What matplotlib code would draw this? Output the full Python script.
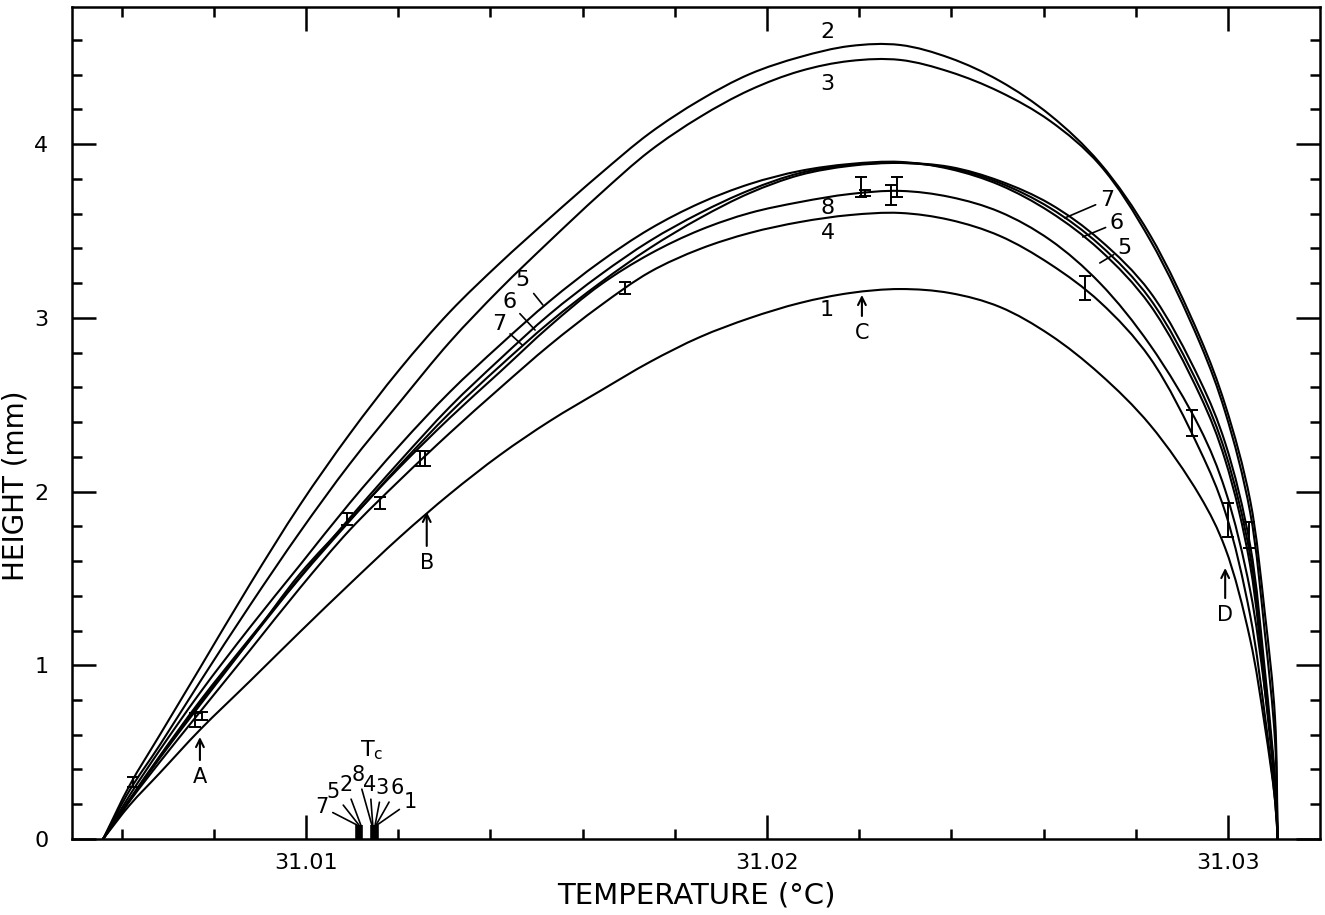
import matplotlib
matplotlib.use("Agg")
import numpy as np
from matplotlib import pyplot as plt
from matplotlib.path import Path
from matplotlib.patches import PathPatch
from matplotlib.ticker import MultipleLocator, FixedLocator

# temperatures (deg C) at which the curve heights were read
temps = [31.00560, 31.00618, 31.00683, 31.00770, 31.00879, 31.00987, 31.01095,
         31.01204, 31.01312, 31.01421, 31.01529, 31.01638, 31.01746, 31.01855,
         31.01963, 31.02072, 31.02180, 31.02289, 31.02397, 31.02505, 31.02614,
         31.02722, 31.02831, 31.02939, 31.02994, 31.03048, 31.03080, 31.03102,
         31.03108]

# meniscus height (mm) for each sample
h1 = [0, 0.196, 0.380, 0.628, 0.910, 1.192, 1.468, 1.739, 1.986, 2.211, 2.406,
      2.579, 2.746, 2.890, 2.999, 3.086, 3.143, 3.166, 3.143, 3.063, 2.902,
      2.677, 2.384, 1.975, 1.675, 1.151, 0.650, 0.225, 0]
h2 = [0, 0.311, 0.599, 0.984, 1.468, 1.923, 2.332, 2.706, 3.034, 3.316, 3.575,
      3.828, 4.064, 4.254, 4.404, 4.502, 4.565, 4.571, 4.496, 4.364, 4.168,
      3.892, 3.477, 2.890, 2.499, 1.952, 1.301, 0.702, 0]
h3 = [0, 0.282, 0.541, 0.904, 1.347, 1.767, 2.159, 2.516, 2.861, 3.166, 3.443,
      3.713, 3.961, 4.157, 4.312, 4.421, 4.479, 4.485, 4.416, 4.301, 4.134,
      3.881, 3.449, 2.856, 2.458, 1.883, 1.186, 0.570, 0]
h4 = [0, 0.219, 0.443, 0.731, 1.088, 1.445, 1.779, 2.067, 2.337, 2.596, 2.844,
      3.069, 3.264, 3.397, 3.489, 3.552, 3.592, 3.604, 3.564, 3.472, 3.310,
      3.092, 2.769, 2.240, 1.883, 1.290, 0.714, 0.225, 0]
h5 = [0, 0.253, 0.512, 0.841, 1.220, 1.577, 1.934, 2.268, 2.573, 2.844, 3.097,
      3.322, 3.512, 3.661, 3.771, 3.846, 3.886, 3.898, 3.857, 3.765, 3.610,
      3.391, 3.074, 2.556, 2.182, 1.577, 0.858, 0.282, 0]
h6 = [0, 0.230, 0.478, 0.794, 1.157, 1.508, 1.848, 2.176, 2.487, 2.763, 3.022,
      3.247, 3.443, 3.604, 3.736, 3.834, 3.880, 3.892, 3.863, 3.777, 3.633,
      3.420, 3.109, 2.596, 2.228, 1.635, 0.915, 0.311, 0]
h7 = [0, 0.225, 0.472, 0.783, 1.146, 1.503, 1.831, 2.153, 2.453, 2.723, 2.976,
      3.201, 3.402, 3.575, 3.719, 3.823, 3.875, 3.892, 3.869, 3.788, 3.656,
      3.449, 3.149, 2.642, 2.280, 1.693, 0.973, 0.340, 0]
h8 = [0, 0.225, 0.466, 0.771, 1.146, 1.526, 1.837, 2.142, 2.424, 2.689, 2.953,
      3.189, 3.368, 3.506, 3.604, 3.667, 3.713, 3.731, 3.696, 3.610, 3.449,
      3.201, 2.844, 2.366, 2.009, 1.434, 0.858, 0.340, 0]

# measured points with error bars
pt_temp = [31.00625, 31.00759, 31.00774, 31.01089, 31.01161, 31.01247, 31.01258,
           31.01692, 31.02204, 31.02213, 31.02269, 31.02282, 31.02690, 31.02922,
           31.03000, 31.03046]
pt_h = [0.328, 0.685, 0.708, 1.842, 1.934, 2.188, 2.188, 3.172, 3.754, 3.719,
        3.708, 3.754, 3.172, 2.395, 1.837, 1.750]
pt_err = [0.026, 0.043, 0.023, 0.035, 0.037, 0.043, 0.043, 0.035, 0.058, 0.017,
          0.058, 0.058, 0.069, 0.075, 0.098, 0.075]

# critical temperatures of the eight samples
tc_names = ["7", "5", "2", "8", "4", "3", "6", "1"]
tc_temp = [31.01111, 31.01115, 31.01119, 31.01143, 31.01145, 31.01150,
           31.01152, 31.01154]
tc_mark = 0.08

# marked points A-D: (label, temperature, height)
marks = [("A", 31.00770, 0.587), ("B", 31.01262, 1.883),
         ("C", 31.02206, 3.132), ("D", 31.02994, 1.560)]

FONT = "DejaVu Sans"
LW = 1.5


def smooth_path(xs, ys, sx=46100.0, sy=173.7):
    # centripetal Catmull-Rom through the read points, drawn as cubic Beziers
    x0 = xs[0]
    p = np.column_stack([(np.asarray(xs) - x0) * sx, np.asarray(ys) * sy])
    p = np.vstack([2 * p[0] - p[1], p, 2 * p[-1] - p[-2]])
    verts = [p[1]]
    codes = [Path.MOVETO]
    for i in range(1, len(p) - 2):
        a, b, c, d = p[i - 1], p[i], p[i + 1], p[i + 2]
        t01 = np.linalg.norm(b - a) ** 0.5
        t12 = np.linalg.norm(c - b) ** 0.5
        t23 = np.linalg.norm(d - c) ** 0.5
        m1 = ((b - a) / t01 - (c - a) / (t01 + t12) + (c - b) / t12) * t12
        m2 = ((c - b) / t12 - (d - b) / (t12 + t23) + (d - c) / t23) * t12
        verts += [b + m1 / 3, c - m2 / 3, c]
        codes += [Path.CURVE4] * 3
    v = np.array(verts)
    v[:, 0] = v[:, 0] / sx + x0
    v[:, 1] = v[:, 1] / sy
    return Path(v, codes)


fig = plt.figure(figsize=(13.25, 9.15), dpi=100)
ax = fig.add_axes([0.0543, 0.0831, 0.9419, 0.9093])

for h in [h1, h2, h3, h4, h5, h6, h7, h8]:
    ax.add_patch(PathPatch(smooth_path(temps, h), fill=False,
                           edgecolor="black", lw=LW, capstyle="round"))

ax.errorbar(pt_temp, pt_h, yerr=pt_err, fmt="none", ecolor="black",
            elinewidth=1.4, capsize=4, capthick=1.4)

# curve labels
for txt, t, y in [("2", 31.02132, 4.646), ("3", 31.02132, 4.347),
                  ("8", 31.02132, 3.633), ("4", 31.02132, 3.489),
                  ("1", 31.02130, 3.046)]:
    ax.text(t, y, txt, fontsize=16, family=FONT, ha="center", va="center")

# labels with leader lines for the close curves 5, 6, 7
for txt, t, y, dx, dy in [("5", 31.01514, 3.074, -20, 25),
                          ("6", 31.01497, 2.930, -26, 28),
                          ("7", 31.01469, 2.844, -23, 21),
                          ("7", 31.02646, 3.575, 42, 18),
                          ("6", 31.02685, 3.466, 34, 14),
                          ("5", 31.02722, 3.316, 25, 15)]:
    ax.annotate(txt, xy=(t, y), xytext=(dx, dy), textcoords="offset pixels",
                fontsize=16, family=FONT, ha="center", va="center",
                arrowprops=dict(arrowstyle="-", lw=1.2, color="black",
                                shrinkA=1, shrinkB=0))

# arrows A-D
for txt, t, y in marks:
    off = {"A": 40, "B": 51, "C": 38, "D": 47}[txt]
    ax.annotate(txt, xy=(t, y), xytext=(0, -off), textcoords="offset pixels",
                fontsize=15, family=FONT, ha="center", va="center",
                arrowprops=dict(arrowstyle="->", lw=1.5, color="black",
                                shrinkA=3, shrinkB=0, mutation_scale=14))

# Tc markers at the bottom
ax.vlines(tc_temp, 0, tc_mark, color="black", lw=2.6)
tc_off = [(-35, 18), (-26, 33), (-15, 40), (-14, 50), (-3, 40), (7, 37),
          (21, 37), (33, 23)]
for name, t, (dx, dy) in zip(tc_names, tc_temp, tc_off):
    ax.annotate(name, xy=(t, tc_mark), xytext=(dx, dy),
                textcoords="offset pixels", fontsize=15, family=FONT,
                ha="center", va="center",
                arrowprops=dict(arrowstyle="-", lw=1.2, color="black",
                                shrinkA=1, shrinkB=0))
ax.text(31.01143, 0.512, r"T$_\mathregular{c}$", fontsize=16, family=FONT,
        ha="center", va="center")

ax.set_xlim(31.004924, 31.031996)
ax.set_ylim(0, 4.79)

ax.xaxis.set_major_locator(FixedLocator([31.01, 31.02, 31.03]))
ax.xaxis.set_minor_locator(MultipleLocator(0.002))
ax.yaxis.set_major_locator(MultipleLocator(1))
ax.yaxis.set_minor_locator(MultipleLocator(0.2))
ax.set_xticklabels(["31.01", "31.02", "31.03"])

ax.tick_params(which="both", direction="in", top=True, right=True,
               width=1.8, colors="black")
ax.tick_params(which="major", length=17)
ax.tick_params(which="minor", length=7)
ax.tick_params(axis="x", which="major", labelsize=16, pad=10)
ax.tick_params(axis="y", which="major", labelsize=16, pad=17)
for lab in ax.get_xticklabels() + ax.get_yticklabels():
    lab.set_family(FONT)
for sp in ax.spines.values():
    sp.set_linewidth(1.8)

ax.set_xlabel("TEMPERATURE (°C)", fontsize=21, family=FONT, labelpad=6)
ax.set_ylabel("HEIGHT (mm)", fontsize=20, family=FONT)
ax.yaxis.set_label_coords(-0.034, 0.425)

plt.savefig("out.png", dpi=100)
